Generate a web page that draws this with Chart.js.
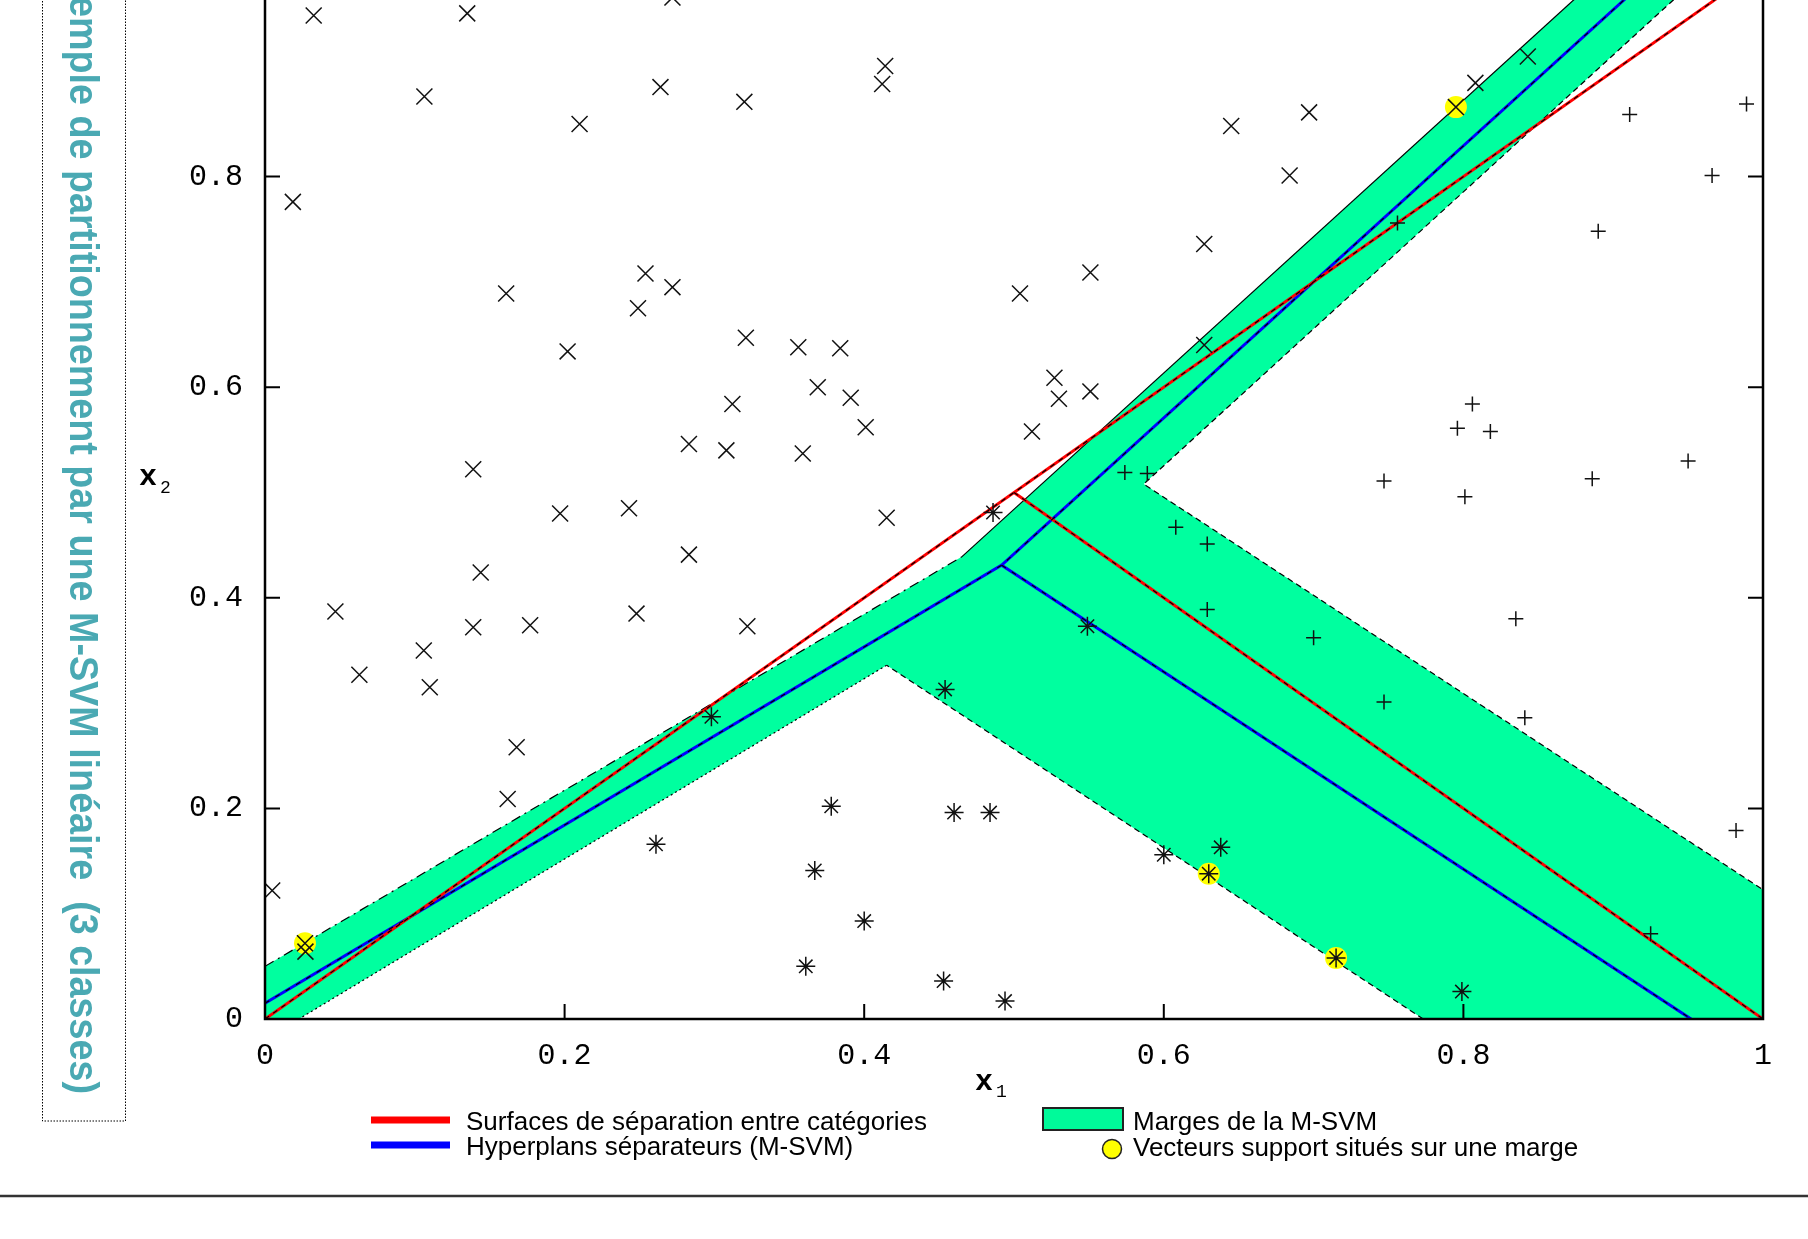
<!DOCTYPE html>
<html>
<head>
<meta charset="utf-8">
<script src="https://cdn.jsdelivr.net/npm/chart.js@4.4.1/dist/chart.umd.min.js"></script>
<style>
    html, body { margin: 0; padding: 0; background: #fff; }
    #wrap { position: relative; width: 1808px; height: 1239px; overflow: hidden; }
    #chart { position: absolute; left: 0; top: -80px; }
</style>
</head>
<body>
<div id="wrap"><canvas id="chart" width="1808" height="1319"></canvas></div>
<script>
// class 1 (x markers)
const crossX = [0.0325, 0.135, 0.272, 0.0186, 0.1064, 0.210, 0.264, 0.320, 0.414, 0.412, 0.161, 0.202, 0.254, 0.249, 0.272, 0.321, 0.356, 0.384, 0.369, 0.391, 0.312, 0.401, 0.283, 0.308, 0.359, 0.139, 0.197, 0.243, 0.283, 0.415, 0.144, 0.047, 0.139, 0.177, 0.248, 0.322, 0.063, 0.106, 0.110, 0.168, 0.162, 0.0048, 0.027, 0.0267, 0.504, 0.512, 0.527, 0.530, 0.551, 0.551, 0.645, 0.627, 0.684, 0.697, 0.627, 0.808, 0.843, 0.795];
const crossY = [0.953, 0.955, 0.970, 0.776, 0.876, 0.850, 0.885, 0.871, 0.905, 0.888, 0.689, 0.634, 0.708, 0.675, 0.695, 0.647, 0.638, 0.637, 0.600, 0.590, 0.584, 0.562, 0.546, 0.540, 0.537, 0.522, 0.480, 0.485, 0.441, 0.476, 0.424, 0.387, 0.372, 0.374, 0.385, 0.373, 0.327, 0.350, 0.315, 0.258, 0.209, 0.122, 0.064, 0.072, 0.689, 0.558, 0.609, 0.589, 0.709, 0.596, 0.848, 0.736, 0.801, 0.861, 0.640, 0.889, 0.914, 0.866];

// class 2 (+ markers)
const plusX = [0.989, 0.911, 0.966, 0.890, 0.756, 0.806, 0.796, 0.818, 0.950, 0.747, 0.886, 0.801, 0.574, 0.589, 0.608, 0.629, 0.629, 0.700, 0.747, 0.835, 0.841, 0.982, 0.925];
const plusY = [0.869, 0.859, 0.801, 0.748, 0.756, 0.584, 0.561, 0.558, 0.530, 0.511, 0.513, 0.496, 0.519, 0.518, 0.467, 0.451, 0.389, 0.362, 0.301, 0.380, 0.286, 0.179, 0.081];

// class 3 (* markers)
const starX = [0.486, 0.549, 0.454, 0.298, 0.261, 0.378, 0.460, 0.484, 0.367, 0.400, 0.361, 0.453, 0.494, 0.600, 0.638, 0.630, 0.715, 0.799];
const starY = [0.481, 0.373, 0.313, 0.287, 0.166, 0.202, 0.196, 0.196, 0.141, 0.093, 0.050, 0.036, 0.017, 0.156, 0.163, 0.138, 0.058, 0.026];

// support vectors lying on a margin
const supportX = [0.0267, 0.795, 0.630, 0.715];
const supportY = [0.072, 0.866, 0.138, 0.058];

// separation surfaces between categories
const redMainX = [0, 1];
const redMainY = [0, 1];
const redBranchX = [0.5, 1];
const redBranchY = [0.5, 0];

// M-SVM hyperplanes
const blueMainX = [0, 0.4918, 0.9322];
const blueMainY = [0.015, 0.431, 1];
const blueBranchX = [0.4918, 0.952];
const blueBranchY = [0.431, 0];

// margin edges
const edgeUpperLeftX = [0, 0.4651];
const edgeUpperLeftY = [0.05, 0.4389];
const edgeUpperX = [0.4651, 0.8985];
const edgeUpperY = [0.4389, 1];
const edgeRightX = [0.965, 0.5866, 1];
const edgeRightY = [1, 0.508, 0.1228];
const edgeLowerRightX = [0.7732, 0.415];
const edgeLowerRightY = [0, 0.336];
const edgeLowerLeftX = [0.415, 0.0226];
const edgeLowerLeftY = [0.336, 0];

const axisTicks = [0, 0.2, 0.4, 0.6, 0.8, 1];

const SHIFT = 80; // canvas moved up so the top of the frame is out of the picture

const pts = (xs, ys) => xs.map((x, i) => ({ x: x, y: ys[i] }));

// the margin area is the plot minus the three class regions
const marginX = [].concat(edgeUpperLeftX, edgeUpperX, edgeRightX, [1], edgeLowerRightX, edgeLowerLeftX, [0, 0]);
const marginY = [].concat(edgeUpperLeftY, edgeUpperY, edgeRightY, [0], edgeLowerRightY, edgeLowerLeftY, [0, 0.05]);

const lineSet = (xs, ys, color, width, dash) => ({
    type: 'line',
    data: pts(xs, ys),
    borderColor: color,
    borderWidth: width,
    borderDash: dash || [],
    pointRadius: 0,
    fill: false,
    tension: 0
});

const frameAndTicks = {
    id: 'frameAndTicks',
    afterDatasetsDraw(chart) {
        const { ctx, chartArea: a, scales: { x, y } } = chart;
        ctx.save();
        ctx.strokeStyle = '#000';
        ctx.lineWidth = 2;
        ctx.beginPath();
        x.ticks.forEach((t) => {
            const px = x.getPixelForValue(t.value);
            ctx.moveTo(px, a.bottom); ctx.lineTo(px, a.bottom - 15);
            ctx.moveTo(px, a.top); ctx.lineTo(px, a.top + 15);
        });
        y.ticks.forEach((t) => {
            const py = y.getPixelForValue(t.value);
            ctx.moveTo(a.left, py); ctx.lineTo(a.left + 15, py);
            ctx.moveTo(a.right, py); ctx.lineTo(a.right - 15, py);
        });
        ctx.stroke();
        ctx.lineWidth = 2.5;
        ctx.strokeRect(a.left, a.top, a.right - a.left, a.bottom - a.top);
        ctx.restore();
    }
};

const titleText = 'Exemple de partitionnement par une M-SVM linéaire  (3 classes)';

const decorations = {
    id: 'decorations',
    afterDraw(chart) {
        const ctx = chart.ctx;
        const Y = (v) => v + SHIFT;
        ctx.save();

        // side title in a dotted box
        ctx.strokeStyle = '#000';
        ctx.lineWidth = 1;
        ctx.setLineDash([1.5, 1.5]);
        ctx.beginPath();
        ctx.moveTo(42.5, 0); ctx.lineTo(42.5, Y(1121)); ctx.lineTo(125.5, Y(1121)); ctx.lineTo(125.5, 0);
        ctx.stroke();
        ctx.setLineDash([]);

        ctx.save();
        ctx.font = 'bold 40px "Liberation Sans", Arial, sans-serif';
        // visible part runs from the "m" (y ~17) down to the closing parenthesis (y ~1094)
        const tail = ctx.measureText(titleText.slice(titleText.indexOf('mple'))).width;
        const along = 1077 / tail;
        ctx.translate(70, Y(1094));
        ctx.rotate(Math.PI / 2);
        ctx.scale(along, 1.03);
        ctx.fillStyle = '#4aa9b3';
        ctx.textAlign = 'right';
        ctx.textBaseline = 'alphabetic';
        ctx.fillText(titleText, 0, 0);
        ctx.restore();

        // axis titles
        ctx.fillStyle = '#000';
        ctx.textAlign = 'left';
        ctx.textBaseline = 'alphabetic';
        ctx.font = 'bold 30px "Liberation Mono", monospace';
        ctx.fillText('x', 975, Y(1090));
        ctx.fillText('x', 139, Y(485));
        ctx.font = '18px "Liberation Mono", monospace';
        ctx.fillText('1', 996, Y(1097));
        ctx.fillText('2', 160, Y(493));

        // legend
        ctx.lineWidth = 7;
        ctx.strokeStyle = '#ff0000';
        ctx.beginPath(); ctx.moveTo(371, Y(1120)); ctx.lineTo(450, Y(1120)); ctx.stroke();
        ctx.strokeStyle = '#0000ff';
        ctx.beginPath(); ctx.moveTo(371, Y(1145)); ctx.lineTo(450, Y(1145)); ctx.stroke();

        ctx.fillStyle = '#00fa9a';
        ctx.fillRect(1043, Y(1108), 80, 22);
        ctx.lineWidth = 2;
        ctx.strokeStyle = '#222';
        ctx.strokeRect(1043, Y(1108), 80, 22);

        ctx.beginPath();
        ctx.arc(1112, Y(1149), 9.5, 0, Math.PI * 2);
        ctx.fillStyle = '#ffff00';
        ctx.fill();
        ctx.lineWidth = 1.5;
        ctx.stroke();

        ctx.fillStyle = '#000';
        ctx.font = '26px "Liberation Sans", Arial, sans-serif';
        ctx.fillText('Surfaces de séparation entre catégories', 466, Y(1130));
        ctx.fillText('Hyperplans séparateurs (M-SVM)', 466, Y(1155));
        ctx.fillText('Marges de la M-SVM', 1133, Y(1130));
        ctx.fillText('Vecteurs support situés sur une marge', 1133, Y(1156));

        // rule under the figure
        ctx.strokeStyle = '#333';
        ctx.lineWidth = 2.5;
        ctx.beginPath(); ctx.moveTo(0, Y(1196)); ctx.lineTo(1808, Y(1196)); ctx.stroke();

        ctx.restore();
    }
};

const tickFont = { family: '"Liberation Mono", monospace', size: 30 };
const tickLabel = (value) => String(value);

new Chart(document.getElementById('chart'), {
    type: 'scatter',
    data: {
        datasets: [
            {
                data: pts(crossX, crossY),
                pointStyle: 'crossRot',
                pointRadius: 11.3,
                borderColor: '#111',
                borderWidth: 1.5
            },
            {
                data: pts(plusX, plusY),
                pointStyle: 'cross',
                pointRadius: 7.5,
                borderColor: '#111',
                borderWidth: 1.5
            },
            {
                data: pts(starX, starY),
                pointStyle: 'star',
                pointRadius: 9.5,
                borderColor: '#111',
                borderWidth: 1.5
            },
            {
                data: pts(supportX, supportY),
                pointStyle: 'circle',
                pointRadius: 11,
                backgroundColor: '#ffff00',
                borderWidth: 0
            },
            lineSet(redMainX, redMainY, '#000', 1.2, [5, 5]),
            lineSet(redBranchX, redBranchY, '#000', 1.2, [5, 5]),
            lineSet(blueMainX, blueMainY, '#000', 1.2, [5, 7]),
            lineSet(blueBranchX, blueBranchY, '#000', 1.2, [5, 7]),
            lineSet(redMainX, redMainY, '#ff0000', 3),
            lineSet(redBranchX, redBranchY, '#ff0000', 3),
            lineSet(blueMainX, blueMainY, '#0000ff', 3),
            lineSet(blueBranchX, blueBranchY, '#0000ff', 3),
            lineSet(edgeUpperLeftX, edgeUpperLeftY, '#000', 1.2, [10, 5, 2, 5]),
            lineSet(edgeUpperX, edgeUpperY, '#000', 1.2),
            lineSet(edgeRightX, edgeRightY, '#000', 1.2, [6, 4]),
            lineSet(edgeLowerRightX, edgeLowerRightY, '#000', 1.2, [6, 4]),
            lineSet(edgeLowerLeftX, edgeLowerLeftY, '#000', 1.2, [2, 3]),
            {
                type: 'line',
                data: pts(marginX, marginY),
                borderWidth: 0,
                borderColor: 'rgba(0,0,0,0)',
                backgroundColor: '#00ff9f',
                pointRadius: 0,
                fill: 'shape',
                tension: 0
            }
        ]
    },
    options: {
        responsive: false,
        animation: false,
        devicePixelRatio: 1,
        events: [],
        layout: { padding: { top: 46, right: 45, bottom: 100, left: 0 } },
        plugins: { legend: { display: false }, tooltip: { enabled: false } },
        scales: {
            x: {
                type: 'linear',
                min: 0,
                max: 1,
                afterFit: (scale) => { scale.height = 120; },
                afterBuildTicks: (scale) => { scale.ticks = axisTicks.map(v => ({ value: v })); },
                grid: { display: false, drawTicks: false },
                border: { display: false },
                ticks: { font: tickFont, color: '#000', padding: 19, maxRotation: 0, callback: tickLabel }
            },
            y: {
                type: 'linear',
                min: 0,
                max: 1,
                afterFit: (scale) => { scale.width = 265; },
                afterBuildTicks: (scale) => { scale.ticks = axisTicks.map(v => ({ value: v })); },
                grid: { display: false, drawTicks: false },
                border: { display: false },
                ticks: { font: tickFont, color: '#000', padding: 22, callback: tickLabel }
            }
        }
    },
    plugins: [frameAndTicks, decorations]
});
</script>
</body>
</html>
